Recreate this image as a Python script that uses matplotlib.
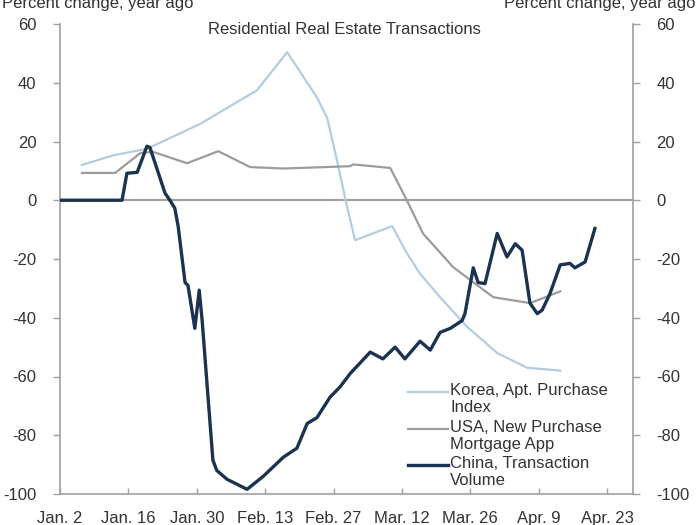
import matplotlib
matplotlib.use("Agg")
import matplotlib.pyplot as plt

plt.rcParams['font.family'] = ['Liberation Sans', 'DejaVu Sans']

# x values are days since Jan. 2
tick_days = [0, 14, 28, 42, 56, 70, 84, 98, 112]
tick_labels = ["Jan. 2", "Jan. 16", "Jan. 30", "Feb. 13", "Feb. 27",
               "Mar. 12", "Mar. 26", "Apr. 9", "Apr. 23"]
y_ticks = [60, 40, 20, 0, -20, -40, -60, -80, -100]

korea_days = [4.5, 10.9, 17.8, 28.7, 40.3, 46.5, 52.6, 54.7, 56.7, 58.8, 60.4,
              68.0, 71.0, 73.7, 77.8, 83.3, 89.5, 95.6, 102.4]
korea_vals = [12, 15.3, 17.5, 26, 37.4, 50.4, 35, 28, 13.6, -2.4, -13.6,
              -8.8, -18, -25, -33, -43, -52, -57, -58]

usa_days = [4.5, 11.3, 16.4, 19.0, 26.0, 32.4, 38.9, 45.7, 59.4, 60.0, 67.6,
            71.0, 74.3, 80.5, 88.7, 96.2, 98.3, 102.4]
usa_vals = [9.3, 9.3, 16, 16.5, 12.6, 16.7, 11.3, 10.8, 11.6, 12.2, 11,
            0, -11.3, -22.8, -33, -35, -33.7, -31]

china_days = [0, 12.7, 13.7, 15.8, 17.8, 18.4, 21.5, 22.5, 23.5, 24.2, 25.6, 26.2,
              27.6, 28.5, 29.1, 31.3, 32.1, 34.2, 38.3, 41.6, 45.7, 48.5, 50.6,
              52.6, 55.3, 57.3, 59.4, 63.5, 66.1, 68.6, 70.6, 73.7, 75.8, 77.8,
              79.9, 82.3, 82.9, 84.6, 85.6, 87.0, 89.5, 91.5, 93.2, 94.6, 96.2,
              97.7, 98.7, 100.3, 102.4, 104.4, 105.4, 107.5, 109.5]
china_vals = [0, 0, 9.2, 9.5, 18.4, 18, 2.4, 0, -2.7, -9, -28, -29,
              -43.6, -30.6, -41, -88.5, -92, -95, -98.4, -94, -87.5, -84.4, -76,
              -74, -67, -63.6, -59, -51.7, -54, -50, -54, -48, -51, -45,
              -43.6, -41, -38.6, -23, -28, -28.4, -11.3, -19.3, -14.8, -17, -35,
              -38.6, -37.4, -31.8, -22, -21.5, -23, -21, -9.6]

series_labels = ["Korea, Apt. Purchase\nIndex",
                 "USA, New Purchase\nMortgage App",
                 "China, Transaction\nVolume"]
colors = ["#b3cde0", "#9c9c9c", "#1b3350"]

fig = plt.figure(figsize=(7, 5.25), dpi=100)
ax = fig.add_axes([60/700, 31/525, 573/700, 470/525])

ax.axhline(0, color="#a0a0a0", lw=1.6, zorder=1)
ax.plot(korea_days, korea_vals, color=colors[0], lw=1.6, zorder=2)
ax.plot(usa_days, usa_vals, color=colors[1], lw=1.6, zorder=3)
ax.plot(china_days, china_vals, color=colors[2], lw=2.4, zorder=4)

ax.set_xlim(0, 117.3)
ax.set_ylim(-100, 60)
ax.set_xticks(tick_days)
ax.set_xticklabels(tick_labels)
ax.set_yticks(y_ticks)
ax.set_yticklabels([str(v) for v in y_ticks])

for s in ["left", "right", "bottom"]:
    ax.spines[s].set_color("#a0a0a0")
    ax.spines[s].set_linewidth(1.2)
ax.spines["top"].set_visible(False)

ax.tick_params(axis="y", which="both", direction="out", length=5, width=1,
               color="#a0a0a0", labelsize=12, labelcolor="#333333",
               left=True, right=True, labelleft=True, labelright=True, pad=12)
ax.tick_params(axis="x", direction="in", length=4, width=1, color="#a0a0a0",
               labelsize=12, labelcolor="#333333", pad=12)

ax.text(0.497, 0.989, "Residential Real Estate Transactions", transform=ax.transAxes,
        ha="center", va="center", fontsize=12, color="#333333")

fig.text(2/700, 1 - 8/525, "Percent change, year ago", ha="left", va="baseline",
         fontsize=12, color="#333333")
fig.text(696/700, 1 - 8/525, "Percent change, year ago", ha="right", va="baseline",
         fontsize=12, color="#333333")

# legend (drawn in axes coordinates)
leg_y = [392, 429, 465]
for lab, col, py in zip(series_labels, colors, leg_y):
    ay = (494 - py) / 470
    lw = 2.4 if col == colors[2] else 1.6
    ax.plot([(408 - 60) / 573, (448 - 60) / 573], [ay, ay], color=col, lw=lw,
            transform=ax.transAxes, clip_on=False, zorder=6)
    ax.text((450 - 60) / 573, ay + 9/470, lab, transform=ax.transAxes,
            ha="left", va="top", fontsize=12, color="#333333",
            linespacing=1.15, zorder=6)

fig.savefig("out.png", dpi=100)
